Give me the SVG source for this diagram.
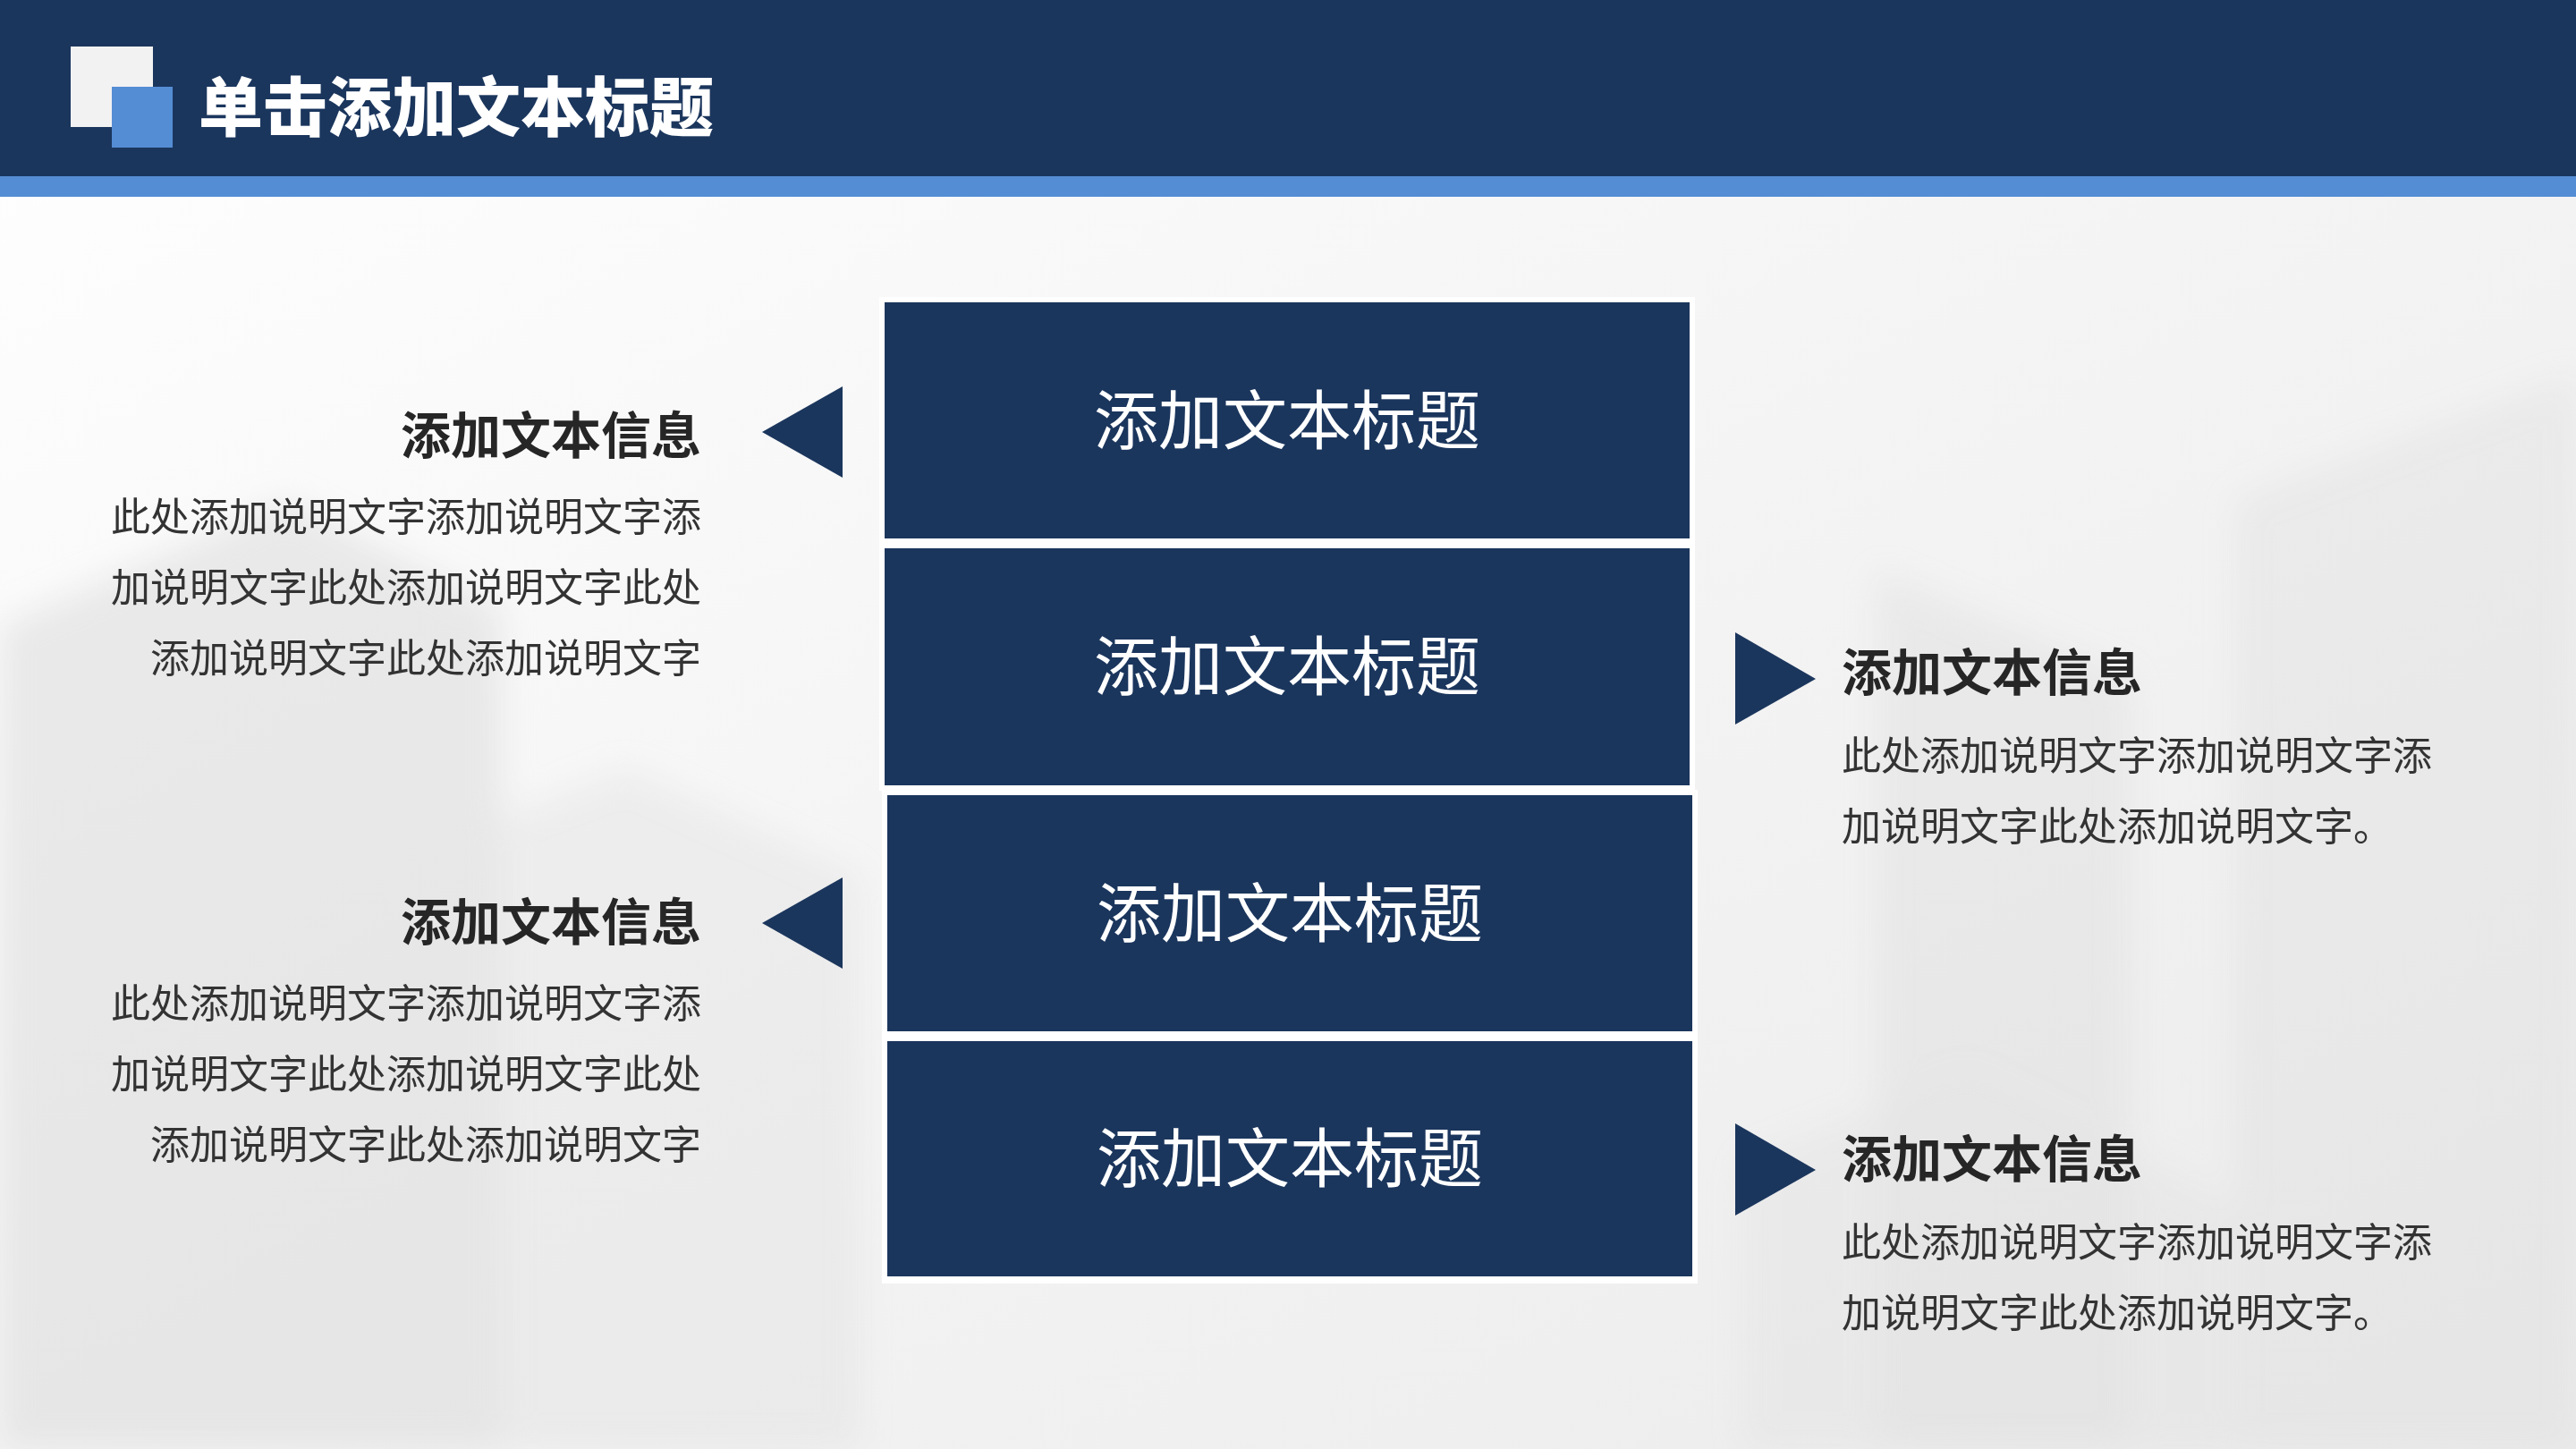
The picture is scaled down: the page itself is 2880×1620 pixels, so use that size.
<svg xmlns="http://www.w3.org/2000/svg" width="2880" height="1620" viewBox="0 0 2880 1620">
<defs>
<style>
.cjk{font-family:"Noto Sans CJK SC","Noto Sans",sans-serif}
.boxT{font-size:72px;font-weight:400;fill:#ffffff;text-anchor:middle}
.head{font-size:56px;font-weight:700;fill:#262626}
.body{font-size:44px;font-weight:400;fill:#333333}
.box{fill:#1b365d}
.frame{fill:#ffffff}
.tri{fill:#1b365d}
.bg{fill:#d9d9d9}
</style>
<linearGradient id="bgG" x1="0" y1="0" x2="1" y2="1">
<stop offset="0" stop-color="#ffffff"/>
<stop offset="0.5" stop-color="#f4f4f4"/>
<stop offset="1" stop-color="#ebebeb"/>
</linearGradient>
<filter id="blur" x="-20%" y="-20%" width="140%" height="140%"><feGaussianBlur stdDeviation="18"/></filter>
</defs>
<rect x="0" y="0" width="2880" height="1620" fill="url(#bgG)"/>
<g id="background" filter="url(#blur)" opacity="0.5">
<polygon class="bg" points="0,700 320,560 560,680 560,1620 0,1620"/>
<polygon class="bg" points="340,1000 700,860 960,980 960,1620 340,1620" opacity="0.6"/>
<polygon class="bg" points="2100,640 2380,760 2380,1620 2100,1620" opacity="0.7"/>
<polygon class="bg" points="2500,560 2880,420 2880,1620 2500,1620" opacity="0.6"/>
<polygon class="bg" points="1950,1300 2200,1200 2500,1350 2500,1620 1950,1620" opacity="0.5"/>
</g>
<g id="header">
<rect x="0" y="0" width="2880" height="197" fill="#1b365d"/>
<rect x="0" y="197" width="2880" height="23" fill="#548dd4"/>
<rect x="79" y="52" width="92" height="90" fill="#f2f2f2"/>
<rect x="125" y="97" width="68" height="68" fill="#548dd4"/>
<text class="cjk" x="222" y="146" font-size="72" font-weight="900" fill="#ffffff">单击添加文本标题</text>
</g>
<g id="box1"><rect class="frame" x="983" y="332" width="912" height="276"/><rect class="box" x="989" y="338" width="900" height="264"/><text class="cjk boxT" x="1439" y="496">添加文本标题</text></g>
<g id="box2"><rect class="frame" x="983" y="607" width="912" height="277"/><rect class="box" x="989" y="613" width="900" height="265"/><text class="cjk boxT" x="1439" y="771">添加文本标题</text></g>
<g id="box3"><rect class="frame" x="986" y="883" width="912" height="276"/><rect class="box" x="992" y="889" width="900" height="264"/><text class="cjk boxT" x="1442" y="1047">添加文本标题</text></g>
<g id="box4"><rect class="frame" x="986" y="1158" width="912" height="277"/><rect class="box" x="992" y="1164" width="900" height="263"/><text class="cjk boxT" x="1442" y="1321">添加文本标题</text></g>
<g id="connectors">
<polygon class="tri" points="852,483 942,432 942,534"/>
<polygon class="tri" points="852,1032 942,981 942,1083"/>
<polygon class="tri" points="1940,707 2030,759 1940,810"/>
<polygon class="tri" points="1940,1256 2030,1308 1940,1359"/>
</g>
<g id="info-left-1" class="cjk" text-anchor="end">
<text class="head" x="784" y="507">添加文本信息</text>
<text class="body" x="784" y="594">此处添加说明文字添加说明文字添</text>
<text class="body" x="784" y="673">加说明文字此处添加说明文字此处</text>
<text class="body" x="784" y="752">添加说明文字此处添加说明文字</text>
</g>
<g id="info-left-2" class="cjk" text-anchor="end">
<text class="head" x="784" y="1051">添加文本信息</text>
<text class="body" x="784" y="1138">此处添加说明文字添加说明文字添</text>
<text class="body" x="784" y="1217">加说明文字此处添加说明文字此处</text>
<text class="body" x="784" y="1296">添加说明文字此处添加说明文字</text>
</g>
<g id="info-right-1" class="cjk">
<text class="head" x="2059" y="772">添加文本信息</text>
<text class="body" x="2059" y="861">此处添加说明文字添加说明文字添</text>
<text class="body" x="2059" y="940">加说明文字此处添加说明文字。</text>
</g>
<g id="info-right-2" class="cjk">
<text class="head" x="2059" y="1316">添加文本信息</text>
<text class="body" x="2059" y="1405">此处添加说明文字添加说明文字添</text>
<text class="body" x="2059" y="1484">加说明文字此处添加说明文字。</text>
</g>
</svg>
